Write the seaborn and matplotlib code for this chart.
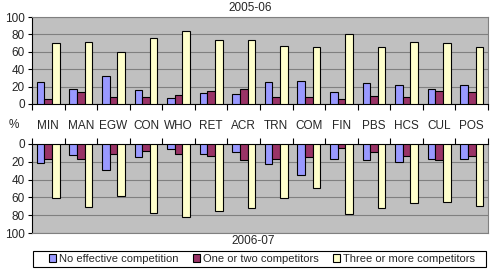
import matplotlib
matplotlib.use("Agg")
import matplotlib.pyplot as plt
import seaborn as sns
import pandas as pd
from matplotlib.patches import Patch, Rectangle

categories = ["MIN", "MAN", "EGW", "CON", "WHO", "RET", "ACR", "TRN", "COM", "FIN", "PBS", "HCS", "CUL", "POS"]
series = ["No effective competition", "One or two competitors", "Three or more competitors"]
colors = ["#9999FF", "#993366", "#FFFFCC"]

top_title = "2005-06"
bottom_title = "2006-07"
none_0506 = [25, 17, 32, 16, 7, 12.5, 11, 25, 27, 14, 24, 22, 17, 22]
few_0506 = [6, 14, 8, 8, 10, 15, 17, 8, 8, 6, 9, 8, 15, 14]
many_0506 = [70, 71, 60, 76, 84, 74, 73, 67, 65, 81, 66, 71, 70, 65]

none_0607 = [21, 12, 29, 15, 6, 11, 9, 22, 34.5, 17, 18, 20, 17, 17]
few_0607 = [17, 17, 11, 8, 11, 13, 18, 17, 15, 4.5, 9, 13.5, 18, 13.5]
many_0607 = [61, 71, 58, 78, 82, 75, 72, 61, 49.5, 79, 72, 66, 65, 70]

yticks = [0, 20, 40, 60, 80, 100]


def long_df(a, b, c):
    rows = []
    for s, vals in zip(series, [a, b, c]):
        for cat, v in zip(categories, vals):
            rows.append({"cat": cat, "series": s, "value": v})
    return pd.DataFrame(rows)


sns.set_theme(style="white")
plt.rcParams["font.family"] = ["Liberation Sans", "DejaVu Sans"]
plt.rcParams["font.size"] = 8

W, H = 494, 271
fig = plt.figure(figsize=(W / 100, H / 100), dpi=100)
fig.patch.set_facecolor("white")

L, R = 32 / W, 488 / W
ax1 = fig.add_axes([L, 1 - 104 / H, R - L, (104 - 17) / H])
ax2 = fig.add_axes([L, 1 - 233 / H, R - L, (233 - 144) / H])

palette = dict(zip(series, colors))
for ax, df in [(ax1, long_df(none_0506, few_0506, many_0506)),
               (ax2, long_df(none_0607, few_0607, many_0607))]:
    sns.barplot(data=df, x="cat", y="value", hue="series", order=categories,
                hue_order=series, palette=palette, width=0.7, ax=ax,
                edgecolor="black", linewidth=0.8, saturation=1, legend=False,
                zorder=3)
    ax.set_facecolor("#C0C0C0")
    ax.set_ylim(0, 100)
    ax.set_xlim(-0.5, len(categories) - 0.5)
    ax.set_yticks(yticks)
    ax.set_yticklabels([str(t) for t in yticks], fontsize=8.5)
    ax.yaxis.grid(True, color="#808080", linewidth=0.8, zorder=0)
    ax.set_axisbelow(True)
    ax.set_xlabel("")
    ax.set_ylabel("")
    ax.set_xticks([i - 0.5 for i in range(len(categories) + 1)])
    ax.set_xticklabels([])
    ax.tick_params(axis="y", length=3, width=0.8, color="black", pad=2, left=True)
    for s in ax.spines.values():
        s.set_color("#808080")
        s.set_linewidth(0.8)
    ax.spines["left"].set_color("black")

ax1.spines["bottom"].set_color("black")
ax1.tick_params(axis="x", length=4, width=0.8, color="black", bottom=True, direction="out")

ax2.invert_yaxis()
ax2.spines["top"].set_color("black")
ax2.xaxis.tick_top()
ax2.tick_params(axis="x", length=4, width=0.8, color="black", top=True, bottom=False,
                direction="out", labeltop=False)

for i, cat in enumerate(categories):
    x = L + (R - L) * (i + 0.5) / len(categories)
    fig.text(x, 1 - 126 / H, cat, ha="center", va="center", fontsize=8.5)
fig.text(14 / W, 1 - 125 / H, "%", ha="center", va="center", fontsize=8.5)

fig.text(250 / W, 1 - 8 / H, top_title, ha="center", va="center", fontsize=8.5)
fig.text(253 / W, 1 - 241 / H, bottom_title, ha="center", va="center", fontsize=8.5)

# legend frame
fig.patches.append(Rectangle((33 / W, 1 - 267 / H), (486 - 33) / W, 16 / H,
                             transform=fig.transFigure, facecolor="white",
                             edgecolor="black", linewidth=0.8, zorder=1))
handles = [Patch(facecolor=c, edgecolor="black", linewidth=0.8) for c in colors]
leg = fig.legend(handles, series, loc="center", bbox_to_anchor=(262 / W, 1 - 259 / H),
                 ncol=3, frameon=False, fontsize=8, handlelength=0.65, handleheight=0.65,
                 handletextpad=0.25, columnspacing=1.3, borderpad=0.0)
leg.set_zorder(2)

fig.savefig("out.png", dpi=100, facecolor="white")
